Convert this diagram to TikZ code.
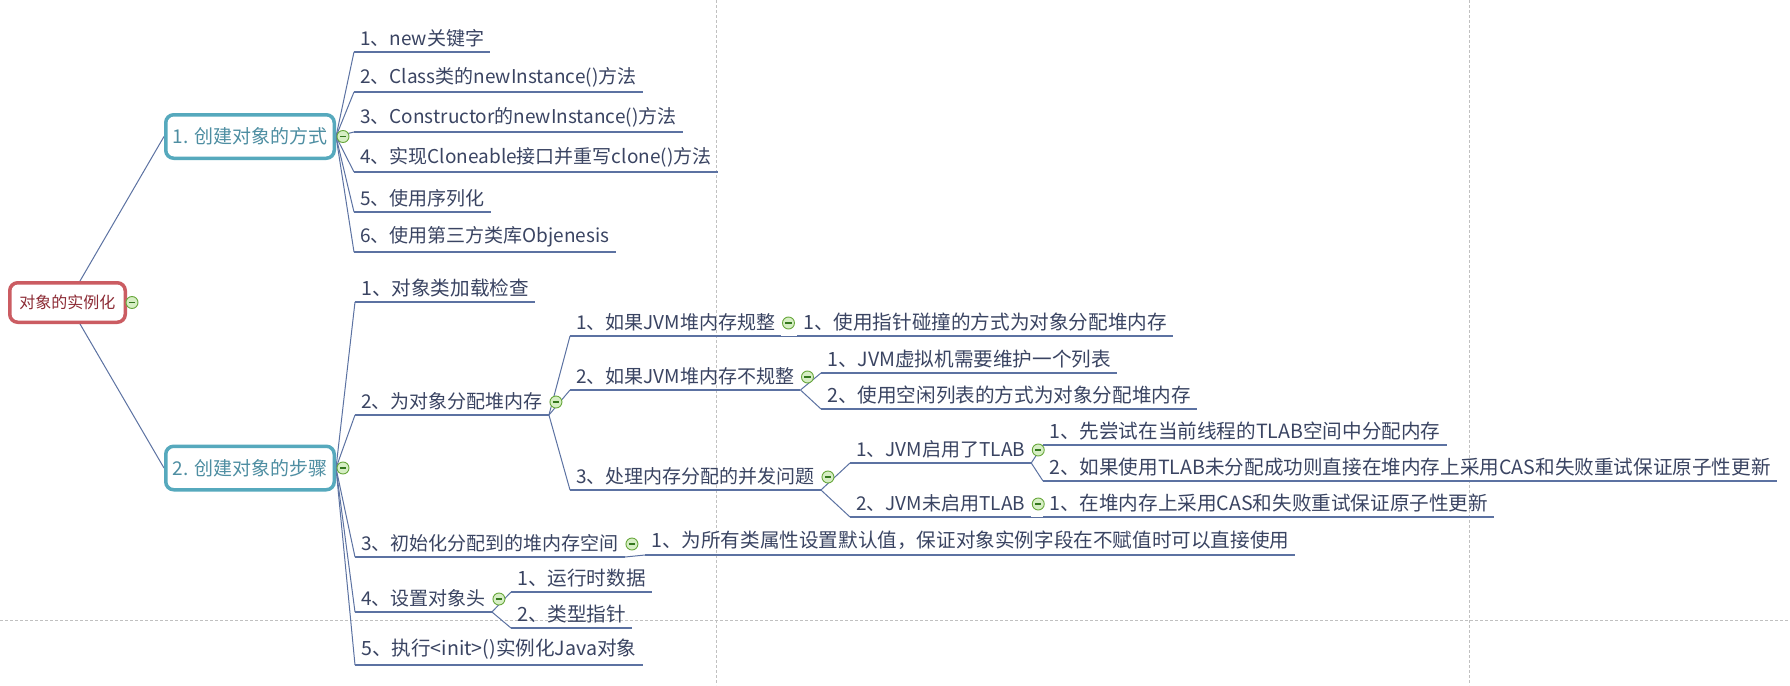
\documentclass[tikz,border=0pt]{standalone}
\usepackage{fontspec}
\setmainfont{Noto Sans CJK SC}
\usetikzlibrary{calc}
\definecolor{rootc}{RGB}{203,92,98}
\definecolor{roottext}{RGB}{140,42,52}
\definecolor{mainc}{RGB}{86,169,189}
\definecolor{maintext}{RGB}{78,142,162}
\definecolor{linec}{RGB}{92,114,162}
\definecolor{leafc}{RGB}{58,68,98}
\definecolor{guidec}{RGB}{192,192,192}
\definecolor{mgreenD}{RGB}{104,168,60}
\definecolor{mgreenL}{RGB}{214,238,196}
\definecolor{mgreenK}{RGB}{52,120,30}
\pgfdeclarelayer{bg}
\pgfsetlayers{bg,main}
\begin{document}
\begin{tikzpicture}[x=1pt,y=-1pt,
  leaf/.style={anchor=south west, inner xsep=6pt, inner ysep=5pt, font=\fontsize{19}{22}\selectfont, text=leafc},
  leafb/.style={leaf, font=\fontsize{19.6}{22}\selectfont},
  uline/.style={draw=linec, line width=1.2pt},
  conn/.style={draw=linec, line width=1pt},
  rootbox/.style={draw=rootc, line width=3.5pt, rounded corners=8pt, fill=white, minimum width=115.5pt, minimum height=39.5pt, inner sep=0pt, font=\fontsize{16}{18}\selectfont, text=roottext},
  mainbox/.style={draw=mainc, line width=3.5pt, rounded corners=8pt, fill=white, minimum width=168.5pt, minimum height=43.5pt, inner sep=0pt, font=\fontsize{19}{21}\selectfont, text=maintext},
  guide/.style={draw=guidec, line width=0.8pt, dash pattern=on 3pt off 2pt},
  minusic/.style={circle, draw=mgreenD, fill=mgreenL, minimum size=12pt, inner sep=0pt, line width=0.9pt,
    path picture={\draw[mgreenK, line width=1.3pt] ([xshift=-3.2pt]path picture bounding box.center) -- ([xshift=3.2pt]path picture bounding box.center);}}
]
\begin{pgfonlayer}{bg}
\fill[white] (0,0) rectangle (1790,685);
\end{pgfonlayer}
\useasboundingbox (0,0) rectangle (1790,685);

% main topics
\node[rootbox] (root) at (67.5,302.5) {对象的实例化};
\node[mainbox] (n1) at (250,136.5) {1. 创建对象的方式};
\node[mainbox] (n2) at (250,468) {2. 创建对象的步骤};

% branch 1
\node[leaf] (a1) at (354,52) {1、new关键字};
\node[leaf] (a2) at (354,92) {2、Class类的newInstance()方法};
\node[leaf] (a3) at (354,132) {3、Constructor的newInstance()方法};
\node[leaf] (a4) at (354,172) {4、实现Cloneable接口并重写clone()方法};
\node[leaf] (a5) at (354,212) {5、使用序列化};
\node[leaf] (a6) at (354,252) {6、使用第三方类库Objenesis};

% branch 2
\node[leafb] (b1) at (355,302) {1、对象类加载检查};
\node[leaf] (b2) at (355,415) {2、为对象分配堆内存};
\node[leaf] (b3) at (355,557) {3、初始化分配到的堆内存空间};
\node[leaf] (b4) at (355,612) {4、设置对象头};
\node[leafb] (b5) at (355,665) {5、执行<init>()实例化Java对象};

\node[leaf] (g1) at (570,336) {1、如果JVM堆内存规整};
\node[leaf] (g2) at (570,390) {2、如果JVM堆内存不规整};
\node[leaf] (g3) at (570,490) {3、处理内存分配的并发问题};

\node[leafb] (p1) at (797,336) {1、使用指针碰撞的方式为对象分配堆内存};
\node[leafb] (h1) at (821,373) {1、JVM虚拟机需要维护一个列表};
\node[leafb] (h2) at (821,409) {2、使用空闲列表的方式为对象分配堆内存};
\node[leaf] (k1) at (850,463) {1、JVM启用了TLAB};
\node[leaf] (k2) at (850,517) {2、JVM未启用TLAB};
\node[leafb] (m1) at (1043,445) {1、先尝试在当前线程的TLAB空间中分配内存};
\node[leafb] (m2) at (1043,481) {2、如果使用TLAB未分配成功则直接在堆内存上采用CAS和失败重试保证原子性更新};
\node[leafb] (m3) at (1043,517) {1、在堆内存上采用CAS和失败重试保证原子性更新};
\node[leafb] (e1) at (645,555) {1、为所有类属性设置默认值，保证对象实例字段在不赋值时可以直接使用};
\node[leafb] (f1) at (511,592) {1、运行时数据};
\node[leafb] (f2) at (511,628) {2、类型指针};

\begin{pgfonlayer}{bg}
\draw[guide] (716,0) -- (716,685);
\draw[guide] (1469,0) -- (1469,685);
\draw[guide] (0,620) -- (1790,620);
\draw[conn] (root.center) -- (n1.west);
\draw[conn] (root.center) -- (n2.west);
\foreach \n in {a1,a2,a3,a4,a5,a6,b1,b2,b3,b4,b5,g1,g2,g3,p1,h1,h2,k1,k2,m1,m2,m3,e1,f1,f2}
  \draw[uline] (\n.south west) -- (\n.south east);
\foreach \n in {a1,a2,a3,a4,a5,a6} \draw[conn] (n1.east) -- (\n.south west);
\foreach \n in {b1,b2,b3,b4,b5} \draw[conn] (n2.east) -- (\n.south west);
\foreach \n in {g1,g2,g3} \draw[conn] (b2.south east) -- (\n.south west);
\draw[conn] (g1.south east) -- (p1.south west);
\foreach \n in {h1,h2} \draw[conn] (g2.south east) -- (\n.south west);
\foreach \n in {k1,k2} \draw[conn] (g3.south east) -- (\n.south west);
\foreach \n in {m1,m2} \draw[conn] (k1.south east) -- (\n.south west);
\draw[conn] (k2.south east) -- (m3.south west);
\draw[conn] (b3.south east) -- (e1.south west);
\foreach \n in {f1,f2} \draw[conn] (b4.south east) -- (\n.south west);
\end{pgfonlayer}

% collapse icons
\node[minusic] (xroot) at ($(root.east)+(5,0)$) {};
\node[minusic] (xn1) at ($(n1.east)+(7,0)$) {};
\node[minusic] (xn2) at ($(n2.east)+(7,0)$) {};
\foreach \n in {b2,b3,b4,g1,g2,g3,k1,k2}
  \node[minusic] (x\n) at ($(\n.south east)+(7,-13)$) {};
\end{tikzpicture}
\end{document}
